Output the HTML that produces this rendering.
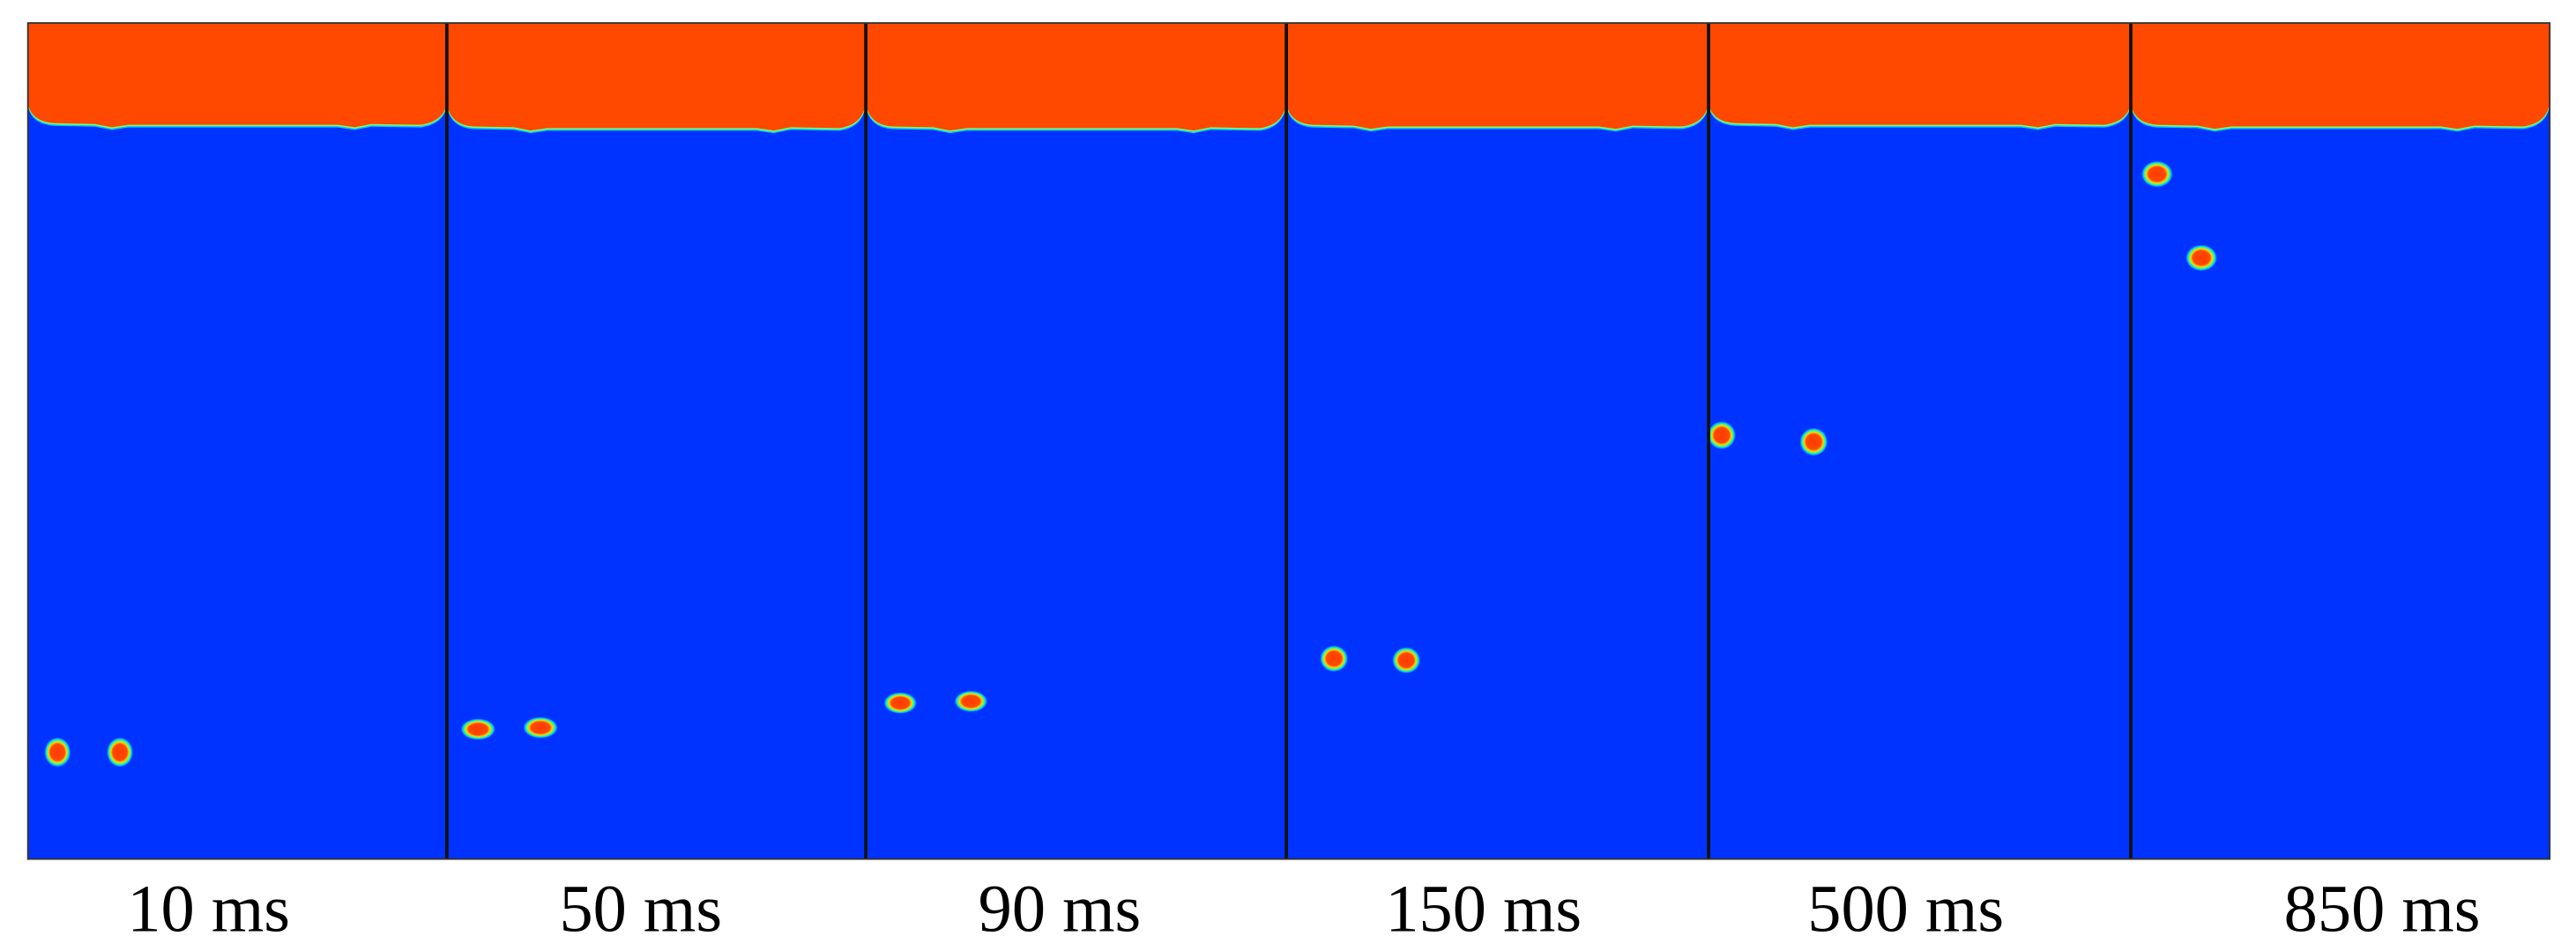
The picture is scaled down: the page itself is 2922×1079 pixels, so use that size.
<!DOCTYPE html>
<html><head><meta charset="utf-8"><style>
html,body{margin:0;padding:0;background:#fff;}
svg{display:block;}
text{font-family:"Liberation Serif",serif;}
</style></head><body>
<svg id="fig" width="2922" height="1079" viewBox="0 0 1568 579" xmlns="http://www.w3.org/2000/svg">
<defs>
<radialGradient id="bub" cx="50%" cy="50%" r="50%">
<stop offset="0%" stop-color="#ff3a00"/>
<stop offset="55%" stop-color="#ff4a00"/>
<stop offset="68%" stop-color="#ffd000"/>
<stop offset="80%" stop-color="#40ff80"/>
<stop offset="91%" stop-color="#00b0ff"/>
<stop offset="100%" stop-color="#0033ff"/>
</radialGradient>
</defs>
<g id="panels"></g>
</svg>
<script>
const labels=["10 ms","50 ms","90 ms","150 ms","500 ms","850 ms"];
const panelEdges=[17,272,527,783,1040,1297,1552];
const labelCenters=[127,390,645,903,1160,1450];
const bubbleX1=[35,291,548,812,1048,1313];
const bubbleY1=[458,444,428,401,265,106];
const bubbleX2=[73,329,591,856,1104,1340];
const bubbleY2=[458,443,427,402,269,157];
const bubbleW=[16,21,20,17,17,19];
const bubbleH=[18,13,13,16,17,16];
const interfaceLevel=[76,78,78,77,76,77];
const topY=14,bottomY=523;
const NS="http://www.w3.org/2000/svg";
const g=document.getElementById('panels');
function mk(t,a){const e=document.createElementNS(NS,t);for(const k in a)e.setAttribute(k,a[k]);return e;}
for(let i=0;i<6;i++){
  const x0=panelEdges[i],x1=panelEdges[i+1],L=interfaceLevel[i];
  const pg=mk('g',{});
  
  
  const water=mk('rect',{x:x0,y:topY,width:x1-x0,height:bottomY-topY,fill:'#0033ff'});
  
  
  pg.appendChild(water);
  const w=x1-x0;
  const d=`M${x0},${topY} L${x1},${topY} L${x1},63 Q${x1-2},${L-2} ${x1-16},${L} L${x0+w*0.82},${L-0.5} L${x0+w*0.78},${L+1.5} L${x0+w*0.74},${L} L${x0+w*0.24},${L} L${x0+w*0.2},${L+1.5} L${x0+w*0.16},${L-0.5} L${x0+16},${L-1} Q${x0+2},${L-2} ${x0},63 Z`;
  const halo=mk('path',{d:d,fill:'#00c8ff',transform:'translate(0,1.6)'});
  
  
  pg.appendChild(halo);
  const halo2=mk('path',{d:d,fill:'#80ff60',transform:'translate(0,0.8)'});
  
  
  pg.appendChild(halo2);
  const air=mk('path',{d:d,fill:'#ff4800'});
  
  
  pg.appendChild(air);
  [[bubbleX1[i],bubbleY1[i]],[bubbleX2[i],bubbleY2[i]]].forEach(([bx,by],j)=>{
    const b=mk('ellipse',{cx:bx,cy:by,rx:bubbleW[i]/2,ry:bubbleH[i]/2,fill:'url(#bub)'});
    
    
    pg.appendChild(b);
  });
  const t=mk('text',{x:labelCenters[i],y:567,'font-size':41,'text-anchor':'middle',fill:'#000'});
  t.textContent=labels[i];
  
  
  pg.appendChild(t);
  g.appendChild(pg);
}
for(let i=1;i<6;i++){
  const l=mk('line',{x1:panelEdges[i],x2:panelEdges[i],y1:topY,y2:bottomY,stroke:'#111',"stroke-width":2});
  
  
  g.appendChild(l);
}
const fr=mk('rect',{x:17,y:topY,width:1535,height:bottomY-topY,fill:'none',stroke:'#333','stroke-width':1});


g.appendChild(fr);
</script>
</body></html>
